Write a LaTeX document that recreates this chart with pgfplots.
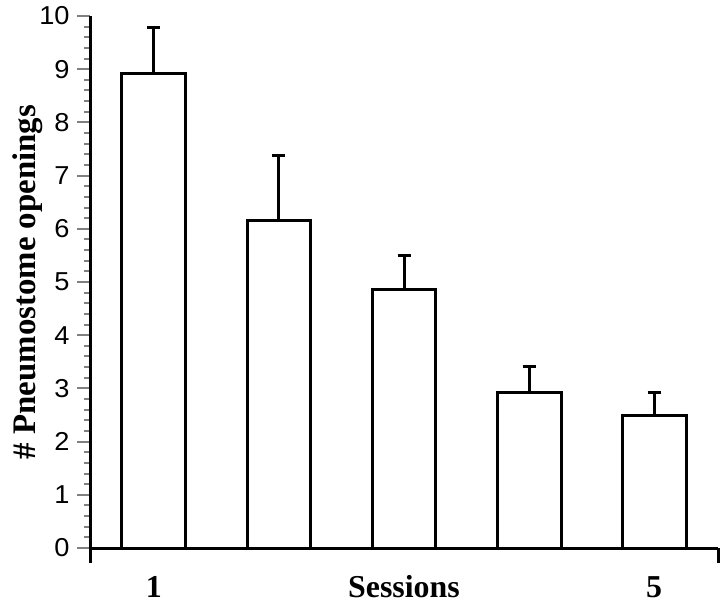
\documentclass[border=0pt]{standalone}
\usepackage{fontspec}
\setmainfont{Liberation Serif}
\newfontfamily\helv{Liberation Sans}
\usepackage{pgfplots}
\pgfplotsset{compat=1.18}

\begin{document}
\begin{tikzpicture}
% 1 px of the reference = 0.5bp
\useasboundingbox (-45bp,-28.5bp) rectangle (315bp,274bp);
\begin{axis}[at={(0,0)},anchor=south west,
  width=314bp,height=266bp,scale only axis,
  xmin=0.49,xmax=5.51,ymin=0,ymax=10,
  axis x line*=bottom,axis y line*=left,
  axis line style={-,line width=1.5bp},
  ytick={0,...,10},minor y tick num=4,
  xtick={1,3,5},xticklabels={1,Sessions,5},
  xtick style={draw=none},
  tick align=outside,
  major tick length=6.5bp,minor tick length=3bp,
  ytick style={line width=1bp},
  /pgf/number format/assume math mode=true,
  yticklabel style={font=\helv\fontsize{13}{13}\selectfont,xscale=1.05},
  xticklabel style={font=\bfseries\fontsize{16}{16}\selectfont,anchor=base,yshift=-18bp},
  ylabel={\# Pneumostome openings},
  ylabel style={font=\bfseries\fontsize{16.5}{16.5}\selectfont,
    at={(axis description cs:-0.0987,0.5)},anchor=center},
  clip=false]
  \addplot[ybar,bar width=0.51,fill=white,draw=black,line width=1.5bp,
    error bars/.cd,y dir=plus,y explicit,
    error bar style={line width=1.5bp},
    error mark options={rotate=90,mark size=3.25bp,line width=1.5bp}]
    coordinates {(1,8.91) +- (0,0.88)
                 (2,6.15) +- (0,1.22)
                 (3,4.85) +- (0,0.64)
                 (4,2.93) +- (0,0.49)
                 (5,2.49) +- (0,0.44)};
  \draw[line width=1.5bp] (axis cs:0.49,0) -- ++(0bp,-7.5bp);
  \draw[line width=1.5bp] (axis cs:5.51,0) -- ++(0bp,-7.5bp);
\end{axis}
\end{tikzpicture}
\end{document}
